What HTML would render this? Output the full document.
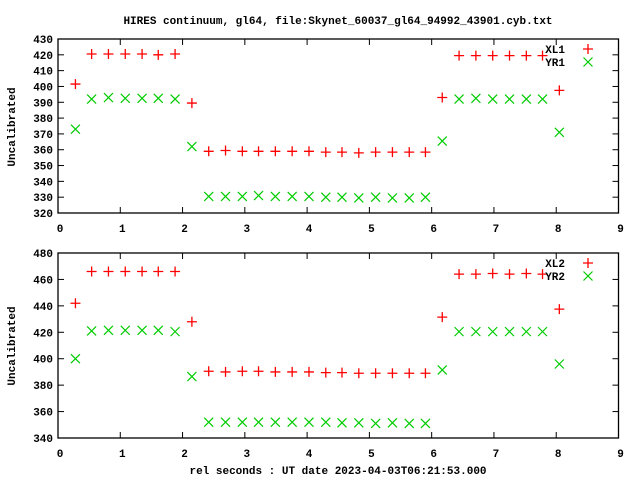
<!DOCTYPE html>
<html><head><meta charset="utf-8"><style>
body{margin:0;background:#fff}
svg text{font-family:"Liberation Mono",monospace;font-size:11px;font-weight:bold;fill:#000}
</style></head><body>
<svg id="c" width="640" height="480" xmlns="http://www.w3.org/2000/svg">
<text x="338" y="24" text-anchor="middle">HIRES continuum, gl64, file:Skynet_60037_gl64_94992_43901.cyb.txt</text>
<text x="338" y="474" text-anchor="middle">rel seconds : UT date 2023-04-03T06:21:53.000</text>
<text transform="translate(15,127) rotate(-90)" text-anchor="middle">Uncalibrated</text>
<text transform="translate(15,346) rotate(-90)" text-anchor="middle">Uncalibrated</text>
</svg>
<script>
const xs=[0.28,0.54,0.81,1.08,1.35,1.61,1.88,2.15,2.42,2.69,2.96,3.22,3.49,3.76,4.03,4.30,4.56,4.83,5.10,5.37,5.64,5.90,6.17,6.44,6.71,6.98,7.25,7.52,7.78,8.05];
const xl1=[401.5,420.5,420.5,420.5,420.5,420,420.5,389.5,359,359.5,359,359,359,359,359,358.5,358.5,358,358.5,358.5,358.5,358.5,393,419.5,419.5,419.5,419.5,419.5,419.5,397.5];
const yr1=[373,392,393,392.5,392.5,392.5,392,362,330.5,330.5,330.5,331,330.5,330.5,330.5,330,330,329.5,330,329.5,329.5,330,365.5,392,392.5,392,392,392,392,371];
const xl2=[442,466,466,466,466,466,466,428,390.5,390,390.5,390.5,390,390,390,389.5,389.5,389,389,389,389,389,431.5,464,464,464.5,464,464.5,464,437.5];
const yr2=[400,421,421.5,421.5,421.5,421.5,420.5,386.5,352,352,352,352,352,352,352,352,351.5,351.5,351,351.5,351,351,391.5,420.5,420.5,420.5,420.5,420.5,420.5,396];
const xTicks=[0,1,2,3,4,5,6,7,8,9];
const yTicks1=[320,330,340,350,360,370,380,390,400,410,420,430];
const yTicks2=[340,360,380,400,420,440,460,480];
const svg=document.getElementById('c');const NS='http://www.w3.org/2000/svg';
function mk(t,a){const e=document.createElementNS(NS,t);for(const k in a)e.setAttribute(k,a[k]);svg.appendChild(e);return e;}
const X0=58,X1=618.5;
function sx(v){return X0+(v-0)/(9-0)*(X1-X0);}
function panel(top,bot,ymin,ymax,yt,s1,s2,n1,n2,pre){
  const sy=v=>bot-(v-ymin)/(ymax-ymin)*(bot-top);
  const fr=mk('rect',{x:X0,y:top,width:X1-X0,height:bot-top,fill:'none',stroke:'#000','stroke-width':1.3});
  
  
  yt.forEach(v=>{const y=sy(v);
    mk('line',{x1:X0,y1:y,x2:X0+6,y2:y,stroke:'#000'});mk('line',{x1:X1,y1:y,x2:X1-6,y2:y,stroke:'#000'});
    const t=mk('text',{x:X0-5,y:y+4,'text-anchor':'end'});t.textContent=v;
    
    });
  xTicks.forEach(v=>{const x=sx(v);
    mk('line',{x1:x,y1:bot,x2:x,y2:bot-6,stroke:'#000'});mk('line',{x1:x,y1:top,x2:x,y2:top+6,stroke:'#000'});
    const t=mk('text',{x:x+2,y:bot+19,'text-anchor':'middle'});t.textContent=v;
    
    });
  function plus(x,y,nm){const g=mk('path',{d:`M${x-5},${y}h10M${x},${y-5}v10`,stroke:'#f00','stroke-width':1.3,fill:'none'});
    
    }
  function cross(x,y,nm){const g=mk('path',{d:`M${x-4.5},${y-4.5}l9,9M${x-4.5},${y+4.5}l9,-9`,stroke:'#0c0','stroke-width':1.2,fill:'none'});
    
    }
  xs.forEach((x,i)=>{plus(sx(x),sy(s1[i]),n1.toLowerCase()+'-point');cross(sx(x),sy(s2[i]),n2.toLowerCase()+'-point');});
  const t1=mk('text',{x:565,y:top+14,'text-anchor':'end'});t1.textContent=n1;
  
  
  plus(588,top+10,'legend-marker-'+n1.toLowerCase());
  const t2=mk('text',{x:565,y:top+27,'text-anchor':'end'});t2.textContent=n2;
  
  
  cross(588,top+23,'legend-marker-'+n2.toLowerCase());
}
panel(39,213,320,430,yTicks1,xl1,yr1,'XL1','YR1','top');
panel(253,438,340,480,yTicks2,xl2,yr2,'XL2','YR2','bottom');
</script>
</body></html>
